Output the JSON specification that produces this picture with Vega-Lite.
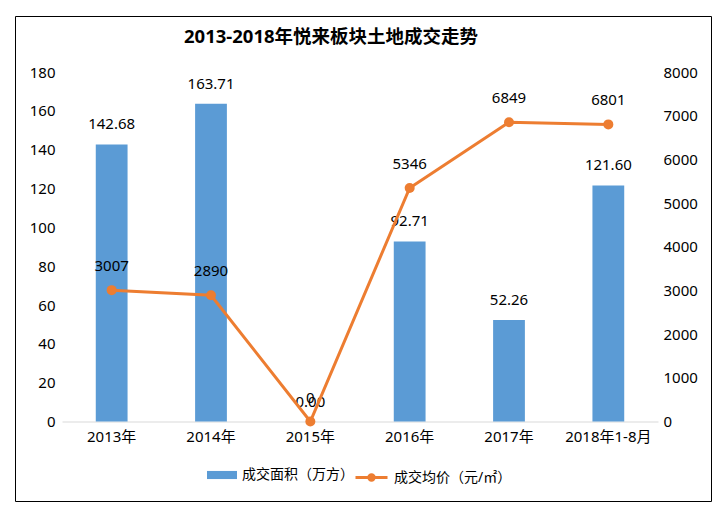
{
  "$schema": "https://vega.github.io/schema/vega-lite/v6.json",
  "width": 696,
  "height": 485,
  "autosize": {"type": "none"},
  "padding": {"left": 15, "top": 16, "right": 15, "bottom": 13},
  "background": "white",
  "title": {
    "text": "2013-2018年悦来板块土地成交走势",
    "fontSize": 18.5,
    "fontWeight": "bold",
    "font": "'Noto Sans', 'Noto Sans CJK SC'",
    "color": "#000000",
    "anchor": "middle",
    "dx": -32,
    "offset": -30
  },
  "config": {
    "view": {"stroke": "#000000", "strokeWidth": 1},
    "axis": {
      "labelFont": "'Noto Sans', 'Noto Sans CJK SC'",
      "labelFontSize": 15,
      "labelColor": "#000000",
      "grid": false,
      "ticks": false,
      "title": null
    },
    "legend": {
      "labelFont": "'Noto Sans', 'Noto Sans CJK SC'",
      "labelFontSize": 14,
      "labelColor": "#000000",
      "padding": 0,
      "title": null
    },
    "text": {"font": "'Noto Sans', 'Noto Sans CJK SC'", "fontSize": 15, "color": "#000000"}
  },
  "data": {
    "values": [
      {"year": "2013年", "area": 142.68, "price": 3007},
      {"year": "2014年", "area": 163.71, "price": 2890},
      {"year": "2015年", "area": 0.0, "price": 0},
      {"year": "2016年", "area": 92.71, "price": 5346},
      {"year": "2017年", "area": 52.26, "price": 6849},
      {"year": "2018年1-8月", "area": 121.6, "price": 6801}
    ]
  },
  "encoding": {
    "x": {
      "field": "year",
      "type": "nominal",
      "sort": null,
      "scale": {"range": [47, 643], "paddingInner": 0.68, "paddingOuter": 0.34},
      "axis": {
        "labelAngle": 0,
        "domainColor": "#D9D9D9",
        "domainWidth": 1,
        "offset": -79.5,
        "labelPadding": 8
      }
    }
  },
  "layer": [
    {
      "encoding": {
        "y": {
          "field": "area",
          "type": "quantitative",
          "scale": {"domain": [0, 180], "range": [405.5, 56], "nice": false, "zero": true},
          "axis": {"orient": "left", "domain": false, "values": [0,20,40,60,80,100,120,140,160,180], "offset": -47, "labelPadding": 7}
        }
      },
      "layer": [
        {
          "mark": {"type": "bar"},
          "encoding": {
            "color": {
              "datum": "成交面积（万方）",
              "scale": {"range": ["#5B9BD5"]},
              "legend": {
                "orient": "none",
                "legendX": 192,
                "legendY": 444,
                "symbolType": "M-1,-0.27H1V0.27H-1Z",
                "symbolSize": 900,
                "symbolStrokeWidth": 0,
                "labelOffset": 5
              }
            }
          }
        },
        {
          "mark": {"type": "text", "baseline": "bottom", "dy": -12},
          "encoding": {"text": {"field": "area", "type": "quantitative", "format": ".2f"}}
        }
      ]
    },
    {
      "encoding": {
        "y": {
          "field": "price",
          "type": "quantitative",
          "scale": {"domain": [0, 8000], "range": [405.5, 56], "nice": false, "zero": true},
          "axis": {"orient": "right", "domain": false, "format": "d", "values": [0,1000,2000,3000,4000,5000,6000,7000,8000], "offset": -53, "labelPadding": 5}
        }
      },
      "layer": [
        {
          "mark": {"type": "line", "strokeWidth": 3},
          "encoding": {
            "stroke": {
              "datum": "成交均价（元/㎡）",
              "scale": {"range": ["#ED7D31"]},
              "legend": {
                "orient": "none",
                "legendX": 339,
                "legendY": 444,
                "symbolType": "M-1,0H1M-0.17,0A0.17,0.17 0 1,0 0.17,0A0.17,0.17 0 1,0 -0.17,0Z",
                "symbolSize": 1024,
                "symbolStrokeWidth": 3,
                "symbolFillColor": "#ED7D31",
                "labelOffset": 5
              }
            }
          }
        },
        {
          "mark": {"type": "point", "filled": true, "size": 100, "color": "#ED7D31", "opacity": 1}
        },
        {
          "mark": {"type": "text", "baseline": "bottom", "dy": -16},
          "encoding": {"text": {"field": "price", "type": "quantitative", "format": "d"}}
        }
      ]
    }
  ],
  "resolve": {"scale": {"y": "independent"}, "axis": {"y": "independent"}}
}
